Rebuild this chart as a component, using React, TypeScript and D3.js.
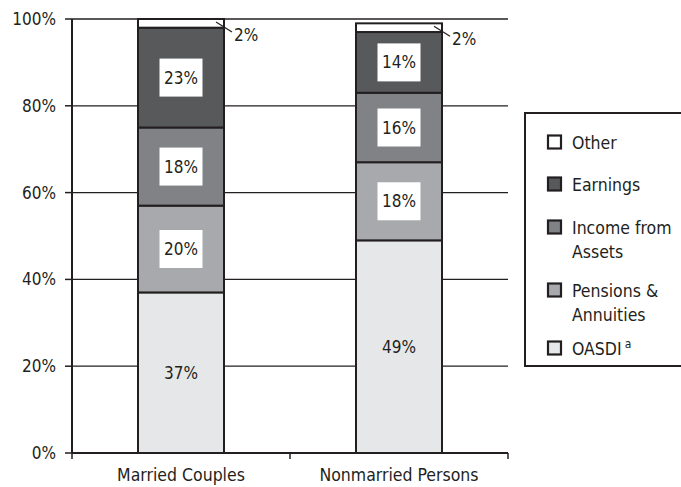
import React from "react";
import * as d3 from "d3";

// Shares of aggregate income by source, per unit type
const categories = ["Married Couples", "Nonmarried Persons"];
const sources = ["OASDI", "Pensions & Annuities", "Income from Assets", "Earnings", "Other"];
const oasdi = [37, 49];
const pensions = [20, 18];
const assets = [18, 16];
const earnings = [23, 14];
const other = [2, 2];
const yTicks = [0, 20, 40, 60, 80, 100];

const fills: Record<string, string> = {
  OASDI: "#e6e7e8",
  "Pensions & Annuities": "#a7a9ac",
  "Income from Assets": "#808285",
  Earnings: "#58595b",
  Other: "#ffffff",
};

const legendItems = [
  { key: "Other", lines: ["Other"] },
  { key: "Earnings", lines: ["Earnings"] },
  { key: "Income from Assets", lines: ["Income from", "Assets"] },
  { key: "Pensions & Annuities", lines: ["Pensions &", "Annuities"] },
  { key: "OASDI", lines: ["OASDI"], sup: "a" },
];

const W = 681;
const H = 487;
const ink = "#231f20";
const font = "'Liberation Sans Narrow', 'DejaVu Sans Condensed', 'Roboto', sans-serif";

export default function App() {
  const rows = categories.map((c, i) => ({
    cat: c,
    OASDI: oasdi[i],
    "Pensions & Annuities": pensions[i],
    "Income from Assets": assets[i],
    Earnings: earnings[i],
    Other: other[i],
  }));
  const stacked = d3.stack<any>().keys(sources)(rows);

  const left = 72, right = 508, top = 19, bottom = 453;
  const x = d3.scaleBand().domain(categories).range([left, right]).paddingInner(0).paddingOuter(0);
  const y = d3.scaleLinear().domain([0, 100]).range([bottom, top]);
  const barW = 86;
  const bx = (c: string) => (x(c) as number) + x.bandwidth() / 2 - barW / 2;

  const legendX = 525, legendY = 113;
  const legendRowY = [142, 184, 227, 290, 348];

  return (
    <svg width={W} height={H} style={{ position: "absolute", left: 0, top: 0, background: "#fff" }}
      fontFamily={font} fill={ink}>
      {/* horizontal gridlines */}
      {yTicks.filter((t) => t > 0).map((t) => (
        <line key={t} x1={left} x2={right} y1={y(t)} y2={y(t)} stroke={ink} strokeWidth={1.3} />
      ))}
      {/* stacked bars */}
      {stacked.map((layer) =>
        layer.map((d, i) => {
          const c = categories[i];
          return (
            <rect key={layer.key + c} x={bx(c)} width={barW} y={y(d[1])} height={y(d[0]) - y(d[1])}
              fill={fills[layer.key]} stroke={ink} strokeWidth={2} />
          );
        })
      )}
      {/* value labels */}
      {stacked.map((layer) =>
        layer.map((d, i) => {
          const c = categories[i];
          const v = d[1] - d[0];
          const cx = (x(c) as number) + x.bandwidth() / 2;
          const cy = (y(d[0]) + y(d[1])) / 2;
          if (layer.key === "Other") {
            const x0 = bx(c) + barW - 8;
            const y0 = y(d[1]) + 3;
            return (
              <g key={"l" + layer.key + c}>
                <line x1={x0} y1={y0} x2={x0 + 16} y2={y0 + 10} stroke={ink} strokeWidth={1.2} />
                <text x={x0 + 18} y={y0 + 19} fontSize={17}>{v}%</text>
              </g>
            );
          }
          return (
            <g key={"l" + layer.key + c}>
              {layer.key !== "OASDI" && (
                <rect x={cx - 21.5} y={cy - 19} width={43} height={38} fill="#fff" />
              )}
              <text x={cx} y={cy + 6} fontSize={17} textAnchor="middle">{v}%</text>
            </g>
          );
        })
      )}
      {/* y axis */}
      <line x1={left} x2={left} y1={top} y2={bottom} stroke={ink} strokeWidth={2} />
      {yTicks.map((t) => (
        <g key={"yt" + t}>
          <line x1={left - 7} x2={left} y1={y(t)} y2={y(t)} stroke={ink} strokeWidth={1.5} />
          <text x={left - 16} y={y(t) + 6} fontSize={17} textAnchor="end">{t}%</text>
        </g>
      ))}
      {/* x axis */}
      <line x1={left} x2={right} y1={bottom} y2={bottom} stroke={ink} strokeWidth={2} />
      {[left, ...categories.map((c) => (x(c) as number) + x.bandwidth())].map((tx, i) => (
        <line key={"xt" + i} x1={tx} x2={tx} y1={bottom} y2={bottom + 6} stroke={ink} strokeWidth={1.5} />
      ))}
      {categories.map((c) => (
        <text key={"xl" + c} x={(x(c) as number) + x.bandwidth() / 2} y={481} fontSize={17.5} textAnchor="middle">{c}</text>
      ))}
      {/* legend */}
      <rect x={legendX} y={legendY} width={W - legendX + 4} height={253} fill="#fff" stroke={ink} strokeWidth={2} />
      {legendItems.map((it, i) => {
        const ry = legendRowY[i];
        return (
          <g key={"lg" + it.key}>
            <rect x={548} y={ry - 6.5} width={13} height={13} fill={fills[it.key]} stroke={ink} strokeWidth={2.2} />
            {it.lines.map((ln, j) => (
              <text key={j} x={572} y={ry + 6.5 + j * 24} fontSize={17.5}>
                {ln}
                {it.sup && j === 0 ? <tspan fontSize={12} dx={3} dy={-7}>{it.sup}</tspan> : null}
              </text>
            ))}
          </g>
        );
      })}
    </svg>
  );
}
